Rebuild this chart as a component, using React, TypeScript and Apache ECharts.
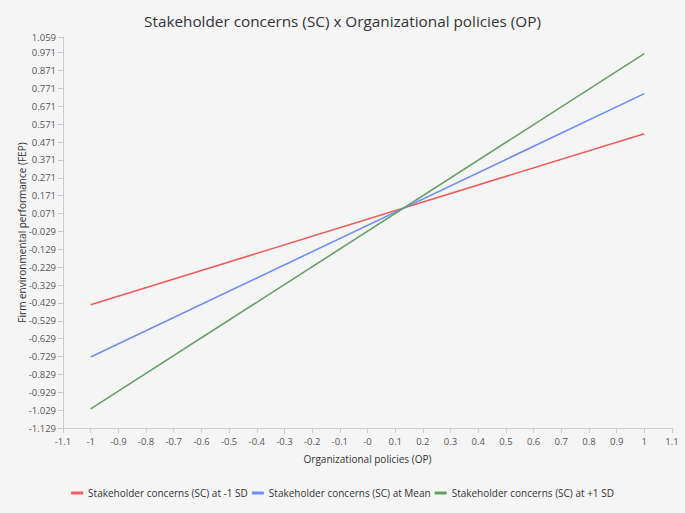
import React, { useEffect, useRef } from "react";
import * as echarts from "echarts";

const xPoints = [-1, 1];
const lowSD = [-0.439, 0.518];
const meanSC = [-0.732, 0.742];
const highSD = [-1.022, 0.966];

const seriesNames = [
  "Stakeholder concerns (SC) at -1 SD",
  "Stakeholder concerns (SC) at Mean",
  "Stakeholder concerns (SC) at +1 SD",
];
const seriesColors = ["#f15a5a", "#6f8ff5", "#68a068"];

const yTickValues = [
  -1.129, -1.029, -0.929, -0.829, -0.729, -0.629, -0.529, -0.429, -0.329, -0.229, -0.129,
  -0.029, 0.071, 0.171, 0.271, 0.371, 0.471, 0.571, 0.671, 0.771, 0.871, 0.971, 1.059,
];
const yTickLabels = [
  "-1.129", "-1.029", "-0.929", "-0.829", "-0.729", "-0.629", "-0.529", "-0.429", "-0.329",
  "-0.229", "-0.129", "-0.029", "0.071", "0.171", "0.271", "0.371", "0.471", "0.571", "0.671",
  "0.771", "0.871", "0.971", "1.059",
];
const xTickValues = [
  -1.1, -1, -0.9, -0.8, -0.7, -0.6, -0.5, -0.4, -0.3, -0.2, -0.1, 0, 0.1, 0.2, 0.3, 0.4, 0.5,
  0.6, 0.7, 0.8, 0.9, 1, 1.1,
];
const xTickLabels = [
  "-1.1", "-1", "-0.9", "-0.8", "-0.7", "-0.6", "-0.5", "-0.4", "-0.3", "-0.2", "-0.1", "-0",
  "0.1", "0.2", "0.3", "0.4", "0.5", "0.6", "0.7", "0.8", "0.9", "1", "1.1",
];

const FONT = "'Open Sans', 'Noto Sans', sans-serif";

export default function App() {
  const ref = useRef<HTMLDivElement>(null);
  useEffect(() => {
    document.body.style.margin = "0";
    if (!ref.current) return;
    const chart = echarts.init(ref.current, undefined, { renderer: "svg" });
    const mk = (vals: number[]) => xPoints.map((x, i) => [x, vals[i]]);
    const allSeries = [lowSD, meanSC, highSD];
    chart.setOption({
      animation: false,
      backgroundColor: "#f5f5f5",
      title: {
        text: "Stakeholder concerns (SC) x Organizational policies (OP)",
        left: "center",
        top: 8,
        textStyle: { fontFamily: FONT, fontSize: 15.3, fontWeight: "normal", color: "#333" },
      },
      legend: {
        bottom: 10,
        left: "center",
        itemWidth: 12,
        itemHeight: 3,
        itemGap: 4,
        icon: "rect",
        textStyle: { fontFamily: FONT, fontSize: 10, color: "#333" },
        data: seriesNames,
      },
      grid: { left: 63, right: 13, top: 37, bottom: 85, containLabel: false },
      xAxis: {
        type: "value",
        min: -1.1,
        max: 1.1,
        name: "Organizational policies (OP)",
        nameLocation: "middle",
        nameGap: 26,
        nameMoveOverlap: false,
        nameTextStyle: { fontFamily: FONT, fontSize: 10, color: "#333" },
        axisLine: { show: true, onZero: false, lineStyle: { color: "#cccccc" } },
        axisTick: { show: true, length: 5, lineStyle: { color: "#cccccc" }, customValues: xTickValues },
        axisLabel: {
          fontFamily: FONT,
          fontSize: 9.5,
          color: "#555",
          margin: 8,
          customValues: xTickValues,
          formatter: (v: number) => {
            const i = xTickValues.findIndex((t) => Math.abs(t - v) < 1e-6);
            return i >= 0 ? xTickLabels[i] : "";
          },
        },
        splitLine: { show: false },
      },
      yAxis: {
        type: "value",
        min: -1.129,
        max: 1.059,
        name: "Firm environmental performance (FEP)",
        nameLocation: "middle",
        nameGap: 36,
        nameMoveOverlap: false,
        nameTextStyle: { fontFamily: FONT, fontSize: 10, color: "#333" },
        axisLine: { show: true, onZero: false, lineStyle: { color: "#cccccc" } },
        axisTick: { show: true, length: 5, lineStyle: { color: "#cccccc" }, customValues: yTickValues },
        axisLabel: {
          fontFamily: FONT,
          fontSize: 9.5,
          color: "#555",
          margin: 7,
          customValues: yTickValues,
          formatter: (v: number) => {
            const i = yTickValues.findIndex((t) => Math.abs(t - v) < 1e-6);
            return i >= 0 ? yTickLabels[i] : "";
          },
        },
        splitLine: { show: false },
      },
      series: seriesNames.map((name, i) => ({
        name,
        type: "line",
        data: mk(allSeries[i]),
        showSymbol: false,
        symbol: "none",
        lineStyle: { color: seriesColors[i], width: 1.6 },
        itemStyle: { color: seriesColors[i] },
      })),
    });
    return () => chart.dispose();
  }, []);
  return <div ref={ref} style={{ width: 685, height: 513 }} />;
}
